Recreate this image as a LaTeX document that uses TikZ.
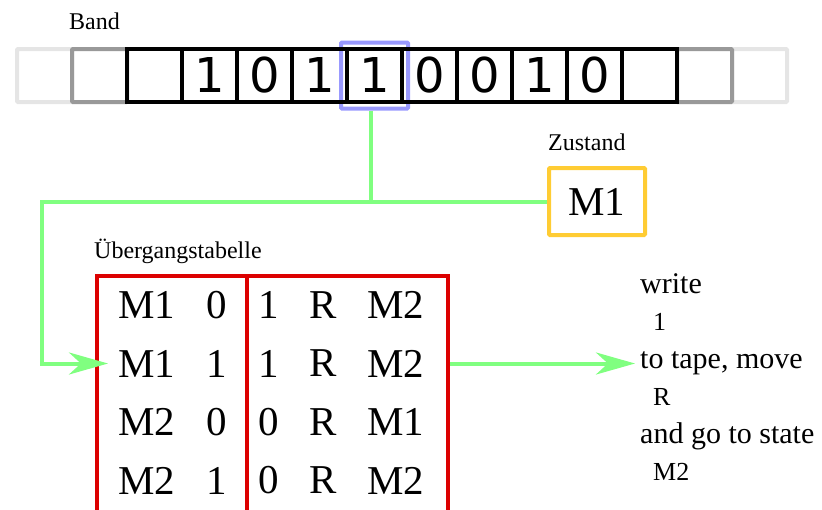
\documentclass[tikz,border=0pt]{standalone}
\usepackage{fontspec}
\setmainfont{Liberation Serif}
\newfontfamily\tapefont{DejaVu Sans}
\usepackage{tikz}
\usetikzlibrary{arrows.meta,positioning,calc}

\definecolor{headblue}{RGB}{153,153,255}
\definecolor{linkgreen}{RGB}{128,255,128}
\definecolor{tabred}{RGB}{220,0,0}
\definecolor{stateyellow}{RGB}{255,204,51}

\begin{document}
\begin{tikzpicture}[x=1pt, y=-1pt,
  cell/.style={draw, line width=4pt, minimum width=55pt, minimum height=53pt,
    inner sep=0pt, font=\tapefont\fontsize{48}{48}\selectfont},
  frame/.style={draw, line width=4pt, inner sep=0pt},
  lbl/.style={anchor=base west, inner sep=0pt, font=\fontsize{24}{24}\selectfont},
  big/.style={inner sep=0pt, font=\fontsize{41}{41}\selectfont},
  desc/.style={anchor=base west, inner sep=0pt, font=\fontsize{30}{30}\selectfont},
  val/.style={desc, xshift=13pt, font=\fontsize{26}{26}\selectfont},
  link/.style={linkgreen, line width=4pt},
  tip/.style={-{Stealth[length=39pt, width=22pt, inset=12pt]}}]
\clip (0,0) rectangle (822,509);

% head sits behind the tape
\node[frame, draw=headblue, rounded corners=1pt, minimum width=67pt,
  minimum height=66pt] (head) at (374.5,75.5) {};

% tape: faded cells first, so the black ones end up on top
\foreach \i/\c in {0/black!10,13/black!10,1/black!40,12/black!40}
  \node[cell, draw=\c, rounded corners=1pt] (c\i) at (44.5+55*\i,75.5) {};
\foreach \i/\v in {2/{},3/1,4/0,5/1,6/1,7/0,8/0,9/1,10/0,11/{}}
  \node[cell] (c\i) at (44.5+55*\i,75.5) {\v};
\node[lbl] (bandlbl) at (69,29) {Band};

% state register
\node[frame, draw=stateyellow, rounded corners=1pt, minimum width=96pt,
  minimum height=67pt, big] (state) at (597,201.5) {M1};
\node[lbl] (statelbl) at (548,150) {Zustand};

% transition table, bottom runs off the page
\node[frame, draw=tabred, minimum width=150pt, minimum height=256pt,
  anchor=north west] (tabIn) at (95,274) {};
\node[frame, draw=tabred, minimum width=201pt, minimum height=256pt,
  anchor=north west] (tabOut) at (245,274) {};
\node[lbl] (tablbl) at (94,258) {Übergangstabelle};
\foreach \r/\s/\a/\w/\m/\n in {1/M1/0/1/R/M2,2/M1/1/1/R/M2,3/M2/0/0/R/M1,4/M2/1/0/R/M2} {
  \node[big] (s\r) at (147,246.5+58.5*\r) {\s};
  \node[big] (a\r) at (217,246.5+58.5*\r) {\a};
  \node[big] (w\r) at (269,246.5+58.5*\r) {\w};
  \node[big] (m\r) at (323,246.5+58.5*\r) {\m};
  \node[big] (n\r) at (396,246.5+58.5*\r) {\n};
}

% what the selected row says
\foreach \k/\s/\t in {1/desc/write,2/val/1,3/desc/{to tape, move},4/val/R,
  5/desc/{and go to state},6/val/M2}
  \node[\s] (d\k) at (640,255.5+37.5*\k) {\t};

% wiring
\coordinate (bend) at (42,201.5);
\draw[link] ([xshift=-4pt]head.south) -- ([xshift=-4pt]head.south |- state.west);
\draw[link, tip] (state.west) -- (bend) |- ([xshift=13pt]tabIn.west |- s2);
\draw[link, tip] (tabOut.east |- s2) -- ([xshift=-5pt]d3.west |- s2);
\end{tikzpicture}
\end{document}
